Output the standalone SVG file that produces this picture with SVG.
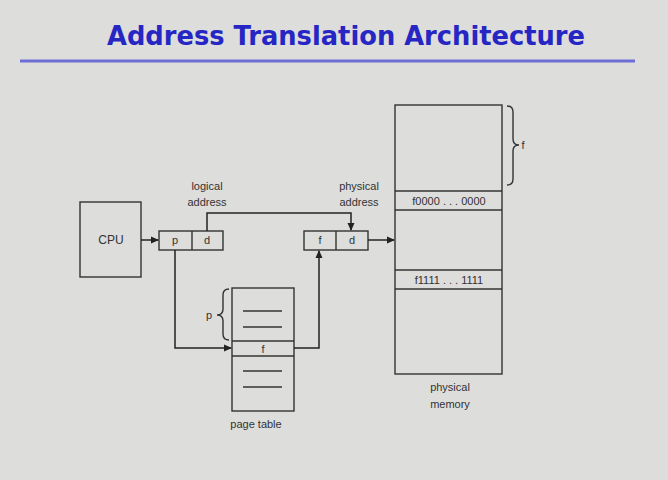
<svg xmlns="http://www.w3.org/2000/svg" width="668" height="480" viewBox="0 0 668 480">
<defs>
<marker id="ah" markerWidth="8" markerHeight="8" refX="7" refY="4" orient="auto" markerUnits="userSpaceOnUse">
<path d="M0,0.5 L8,4 L0,7.5 Z" fill="#222"/>
</marker>
</defs>
<style>
.box{fill:none;stroke:#333;stroke-width:1.4}
.ln{fill:none;stroke:#333;stroke-width:1.4}
.conn{fill:none;stroke:#222;stroke-width:1.5}
.t{font-family:"Liberation Sans",Arial,sans-serif;font-size:11px;fill:#333;text-anchor:middle}
.title{font-family:"DejaVu Sans",Verdana,sans-serif;font-weight:bold;font-size:27px;fill:#2626c4}
</style>
<rect width="668" height="480" fill="#dddddb"/>
<g id="title">
<text class="title" x="107" y="45" textLength="478" lengthAdjust="spacingAndGlyphs">Address Translation Architecture</text>
<line x1="20" y1="61" x2="635" y2="61" stroke="#6e6ed6" stroke-width="3"/>
</g>
<g id="cpu">
<rect class="box" x="80" y="202" width="61" height="75"/>
<text class="t" x="111" y="244" style="font-size:12px">CPU</text>
</g>
<g id="logical">
<rect class="box" x="159" y="231" width="64" height="19"/>
<line class="ln" x1="192" y1="231" x2="192" y2="250"/>
<text class="t" x="175" y="244">p</text>
<text class="t" x="207" y="244">d</text>
<text class="t" x="207" y="190">logical</text>
<text class="t" x="207" y="206">address</text>
</g>
<g id="physical">
<rect class="box" x="304" y="231" width="64" height="19"/>
<line class="ln" x1="336" y1="231" x2="336" y2="250"/>
<text class="t" x="320" y="244">f</text>
<text class="t" x="352" y="244">d</text>
<text class="t" x="359" y="190">physical</text>
<text class="t" x="359" y="206">address</text>
</g>
<g id="memory">
<rect class="box" x="395" y="105" width="107" height="269"/>
<line class="ln" x1="395" y1="191" x2="502" y2="191"/>
<line class="ln" x1="395" y1="210" x2="502" y2="210"/>
<line class="ln" x1="395" y1="270" x2="502" y2="270"/>
<line class="ln" x1="395" y1="289" x2="502" y2="289"/>
<text class="t" x="449" y="205">f0000 . . . 0000</text>
<text class="t" x="449" y="284">f1111 . . . 1111</text>
<path class="ln" d="M507,106 Q513,106 513,112 L513,139 Q513,145 519,145 Q513,145 513,151 L513,179 Q513,185 507,185"/>
<text class="t" x="523" y="149">f</text>
<text class="t" x="450" y="391">physical</text>
<text class="t" x="450" y="408">memory</text>
</g>
<g id="pagetable">
<rect class="box" x="232" y="288" width="62" height="123"/>
<line class="ln" x1="232" y1="341" x2="294" y2="341"/>
<line class="ln" x1="232" y1="356" x2="294" y2="356"/>
<line class="ln" x1="243" y1="311" x2="282" y2="311"/>
<line class="ln" x1="243" y1="327" x2="282" y2="327"/>
<line class="ln" x1="243" y1="371" x2="282" y2="371"/>
<line class="ln" x1="243" y1="387" x2="282" y2="387"/>
<text class="t" x="263" y="353">f</text>
<path class="ln" d="M229,289 Q223,289 223,295 L223,309 Q223,315 217,315 Q223,315 223,321 L223,334 Q223,340 229,340"/>
<text class="t" x="209" y="319">p</text>
<text class="t" x="256" y="428">page table</text>
</g>
<g id="connectors">
<line class="conn" x1="141" y1="240" x2="158" y2="240" marker-end="url(#ah)"/>
<polyline class="conn" points="207,231 207,213 351,213 351,230" marker-end="url(#ah)"/>
<line class="conn" x1="368" y1="240" x2="394" y2="240" marker-end="url(#ah)"/>
<polyline class="conn" points="175,250 175,348 231,348" marker-end="url(#ah)"/>
<polyline class="conn" points="294,348 319,348 319,251" marker-end="url(#ah)"/>
</g>
</svg>
